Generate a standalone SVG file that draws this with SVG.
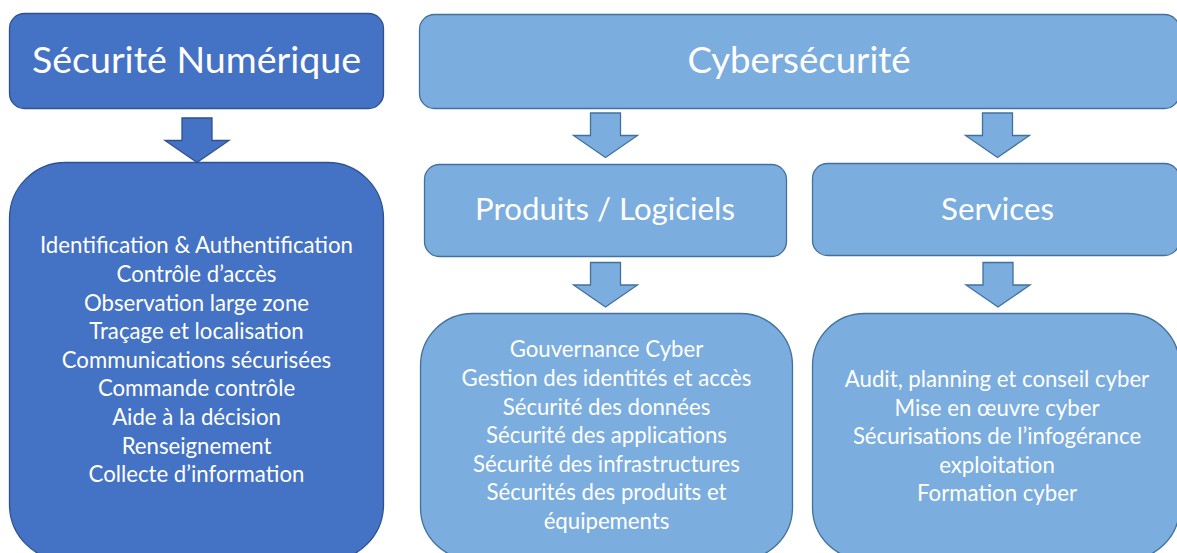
<svg xmlns="http://www.w3.org/2000/svg" width="1177" height="553" viewBox="0 0 1177 553">
  <style>
    .dark { fill: #4472C4; stroke: #2F528F; stroke-width: 1.3; }
    .light { fill: #7BADDE; stroke: #41719C; stroke-width: 1.3; }
    .title { font-family: "Lato", "Liberation Sans", sans-serif; fill: #FFFFFF; text-anchor: middle; }
    .sub { font-family: "Lato", "Liberation Sans", sans-serif; fill: #FFFFFF; text-anchor: middle; font-size: 31.2px; }
    .body { font-family: "Lato", "Liberation Sans", sans-serif; fill: #FFFFFF; text-anchor: middle; font-size: 22.2px; }
  </style>
  <defs>
    <!-- block arrow pointing down, origin at top centre of the shaft -->
    <path id="down-arrow" d="M-15,0 H15 V22.5 H32 L0,44.5 L-32,22.5 H-15 Z"/>
  </defs>

  <rect width="1177" height="553" fill="#FFFFFF"/>

  <g id="connectors">
    <use href="#down-arrow" class="dark" transform="translate(197,118)"/>
    <use href="#down-arrow" class="light" transform="translate(605.5,113)"/>
    <use href="#down-arrow" class="light" transform="translate(997.5,113)"/>
    <use href="#down-arrow" class="light" transform="translate(605.5,262.5)"/>
    <use href="#down-arrow" class="light" transform="translate(998,262.5)"/>
  </g>

  <g id="securite-numerique">
    <rect class="dark" x="9.5" y="13.5" width="374" height="95" rx="15"/>
    <text class="title" x="196.5" y="73" font-size="37.6">Sécurité Numérique</text>
  </g>

  <g id="securite-numerique-domaines">
    <rect class="dark" x="9.5" y="162.5" width="374" height="398" rx="56"/>
    <text class="body" x="196.5" y="253">Identification &amp; Authentification</text>
    <text class="body" x="196.5" y="281.5">Contrôle d’accès</text>
    <text class="body" x="196.5" y="310.5">Observation large zone</text>
    <text class="body" x="196.5" y="339">Traçage et localisation</text>
    <text class="body" x="196.5" y="367.5">Communications sécurisées</text>
    <text class="body" x="196.5" y="396">Commande contrôle</text>
    <text class="body" x="196.5" y="424.5">Aide à la décision</text>
    <text class="body" x="196.5" y="453.5">Renseignement</text>
    <text class="body" x="196.5" y="482">Collecte d’information</text>
  </g>

  <g id="cybersecurite">
    <rect class="light" x="419.5" y="14.5" width="760" height="94" rx="15"/>
    <text class="title" x="799" y="73" font-size="36.6">Cybersécurité</text>
  </g>

  <g id="produits-logiciels">
    <rect class="light" x="424.5" y="164.5" width="362" height="92" rx="15"/>
    <text class="sub" x="605" y="220">Produits / Logiciels</text>
  </g>

  <g id="services">
    <rect class="light" x="812.5" y="163.5" width="367" height="92" rx="15"/>
    <text class="sub" x="997.5" y="220">Services</text>
  </g>

  <g id="produits-logiciels-domaines">
    <rect class="light" x="420.5" y="313.5" width="372" height="246" rx="52"/>
    <text class="body" x="606.5" y="357">Gouvernance Cyber</text>
    <text class="body" x="606.5" y="386">Gestion des identités et accès</text>
    <text class="body" x="606.5" y="414.5">Sécurité des données</text>
    <text class="body" x="606.5" y="443">Sécurité des applications</text>
    <text class="body" x="606.5" y="471.5">Sécurité des infrastructures</text>
    <text class="body" x="606.5" y="500">Sécurités des produits et</text>
    <text class="body" x="606.5" y="528.5">équipements</text>
  </g>

  <g id="services-domaines">
    <rect class="light" x="812.5" y="313.5" width="367" height="246" rx="52"/>
    <text class="body" x="997" y="387">Audit, planning et conseil cyber</text>
    <text class="body" x="997" y="415.5">Mise en œuvre cyber</text>
    <text class="body" x="997" y="444">Sécurisations de l’infogérance</text>
    <text class="body" x="997" y="472.5">exploitation</text>
    <text class="body" x="997" y="501">Formation cyber</text>
  </g>
</svg>
